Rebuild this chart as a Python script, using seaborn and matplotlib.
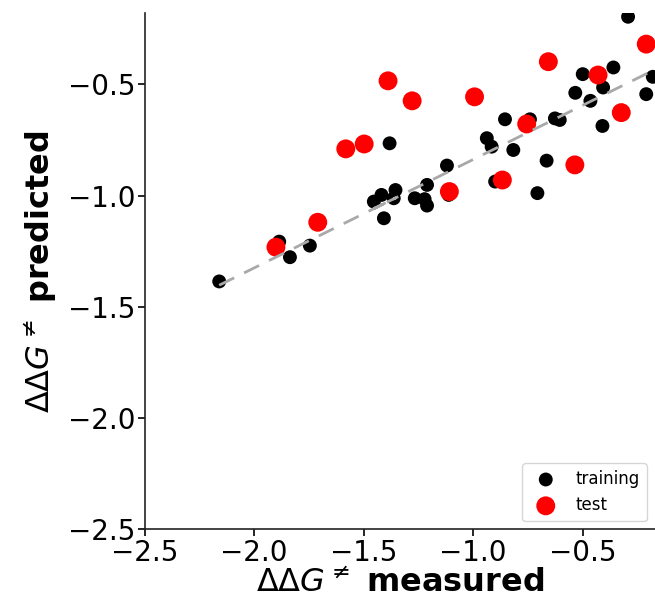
import numpy as np
import pandas as pd
import seaborn as sns
import matplotlib
matplotlib.use('Agg')
import matplotlib.pyplot as plt

# measured vs predicted values
train_x = [-2.16, -1.886, -1.837, -1.746, -1.382, -1.408, -1.454, -1.419, -1.355, -1.363,
           -1.267, -1.222, -1.211, -1.211, -1.12, -1.112, -0.938, -0.916, -0.9, -0.855,
           -0.817, -0.741, -0.707, -0.665, -0.627, -0.605, -0.534, -0.5, -0.465, -0.41,
           -0.407, -0.36, -0.293, -0.21, -0.18]
train_y = [-1.386, -1.207, -1.277, -1.225, -0.765, -1.102, -1.027, -0.997, -0.975, -1.012,
           -1.012, -1.016, -0.952, -1.045, -0.865, -0.997, -0.742, -0.78, -0.937, -0.657,
           -0.795, -0.657, -0.989, -0.843, -0.653, -0.66, -0.538, -0.454, -0.574, -0.687,
           -0.514, -0.424, -0.196, -0.544, -0.466]

test_x = [-1.901, -1.71, -1.582, -1.498, -1.389, -1.279, -1.109, -0.994, -0.867, -0.756,
          -0.657, -0.536, -0.43, -0.324, -0.21]
test_y = [-1.232, -1.12, -0.79, -0.768, -0.484, -0.574, -0.982, -0.556, -0.93, -0.678,
          -0.398, -0.862, -0.458, -0.627, -0.319]

df_train = pd.DataFrame({'measured': train_x, 'predicted': train_y})
df_test = pd.DataFrame({'measured': test_x, 'predicted': test_y})

sns.set_style('ticks', {'axes.edgecolor': '#222222', 'text.color': 'black',
                        'xtick.color': 'black', 'ytick.color': 'black',
                        'axes.labelcolor': 'black'})

fig = plt.figure(figsize=(6.55, 6.0), dpi=100)
ax = fig.add_axes([0.221, 0.118, 0.779, 0.86])

sns.scatterplot(data=df_train, x='measured', y='predicted', color='black', s=100,
                edgecolor='none', label='training', ax=ax)
sns.scatterplot(data=df_test, x='measured', y='predicted', color='red', s=185,
                edgecolor='none', label='test', ax=ax)

# linear fit on training set
slope, intercept = np.polyfit(df_train['measured'], df_train['predicted'], 1)
fit_y = slope * df_train['measured'] + intercept
ax.plot(df_train['measured'], fit_y, '--', color='darkgray', lw=2, dashes=(6, 4))

ax.set_xlim(-2.5, -0.17)
ax.set_ylim(-2.5, -0.18)
ax.set_xticks([-2.5, -2.0, -1.5, -1.0, -0.5])
ax.set_yticks([-2.5, -2.0, -1.5, -1.0, -0.5])
ax.tick_params(labelsize=20, width=1.2, length=5, pad=2)
for sp in ['left', 'bottom']:
    ax.spines[sp].set_linewidth(1.2)
sns.despine(ax=ax)

ax.set_xlabel(r'$\Delta\Delta G^{\neq}$ measured', fontsize=23, fontweight='bold', labelpad=1)
ax.set_ylabel(r'$\Delta\Delta G^{\neq}$ predicted', fontsize=23, fontweight='bold', labelpad=6)
ax.legend(loc='lower right', fontsize=12)

fig.savefig('out.png', dpi=100)
